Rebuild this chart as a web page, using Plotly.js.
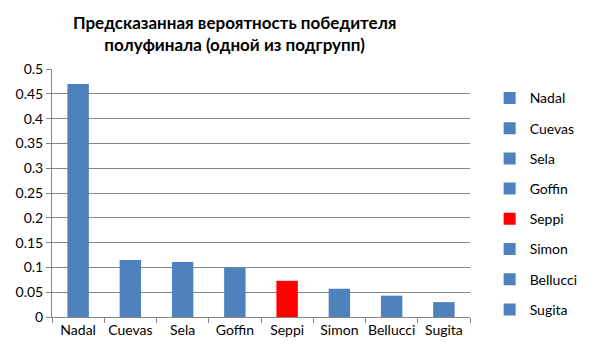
<!DOCTYPE html>
<html><head><meta charset="utf-8">
<script src="https://cdn.plot.ly/plotly-3.0.1.min.js"></script>
<style>html,body{margin:0;padding:0;background:#fff}</style>
</head><body>
<div id="chart" style="width:595px;height:359px"></div>
<script>
var categories = ["Nadal","Cuevas","Sela","Goffin","Seppi","Simon","Bellucci","Sugita"];
var values = [0.47, 0.115, 0.111, 0.1, 0.073, 0.057, 0.043, 0.03];
var colors = ["#4F81BD","#4F81BD","#4F81BD","#4F81BD","#FF0000","#4F81BD","#4F81BD","#4F81BD"];
var yTicks = [0,0.05,0.1,0.15,0.2,0.25,0.3,0.35,0.4,0.45,0.5];
var yTickLabels = ["0","0.05","0.1","0.15","0.2","0.25","0.3","0.35","0.4","0.45","0.5"];
var titleText = "Предсказанная вероятность победителя<br>полуфинала (одной из подгрупп)";

var FONT = "Lato, 'Liberation Sans', sans-serif";
var traces = categories.map(function(c,i){
  return {type:"bar", x:[c], y:[values[i]], name:c, legendgroup:"g"+i,
    marker:{color:colors[i], line:{width:0}}, width:0.41, hoverinfo:"x+y"};
});
var layout = {
  width:595, height:359,
  margin:{l:52, r:113, t:69, b:42},
  paper_bgcolor:"#fff", plot_bgcolor:"#fff",
  barmode:"overlay",
  font:{family:FONT, size:14, color:"#000"},
  title:{text:titleText, x:0.437, xanchor:"center", xref:"paper", y:0.92, yanchor:"top",
    yref:"container", font:{family:FONT, size:17, color:"#000", weight:"bold"}},
  xaxis:{type:"category", categoryorder:"array", categoryarray:categories,
    showline:true, linecolor:"#868686", linewidth:1, ticks:"outside", ticklen:5,
    tickcolor:"#868686", tickson:"boundaries", showgrid:false, zeroline:false,
    tickangle:0, automargin:false, tickfont:{family:FONT, size:14}},
  yaxis:{range:[0,0.5], tickvals:yTicks, ticktext:yTickLabels, showline:true,
    linecolor:"#868686", linewidth:1, ticks:"outside", ticklen:5, tickcolor:"#868686",
    showgrid:true, gridcolor:"#868686", gridwidth:1, zeroline:false,
    tickfont:{family:FONT, size:14}},
  legend:{x:1.047, xanchor:"left", y:0.456, yanchor:"middle", traceorder:"grouped",
    tracegroupgap:9, font:{family:FONT, size:14}, bgcolor:"rgba(0,0,0,0)"},
  showlegend:true
};
Plotly.newPlot("chart", traces, layout, {displayModeBar:false, staticPlot:true});
</script>
</body></html>
